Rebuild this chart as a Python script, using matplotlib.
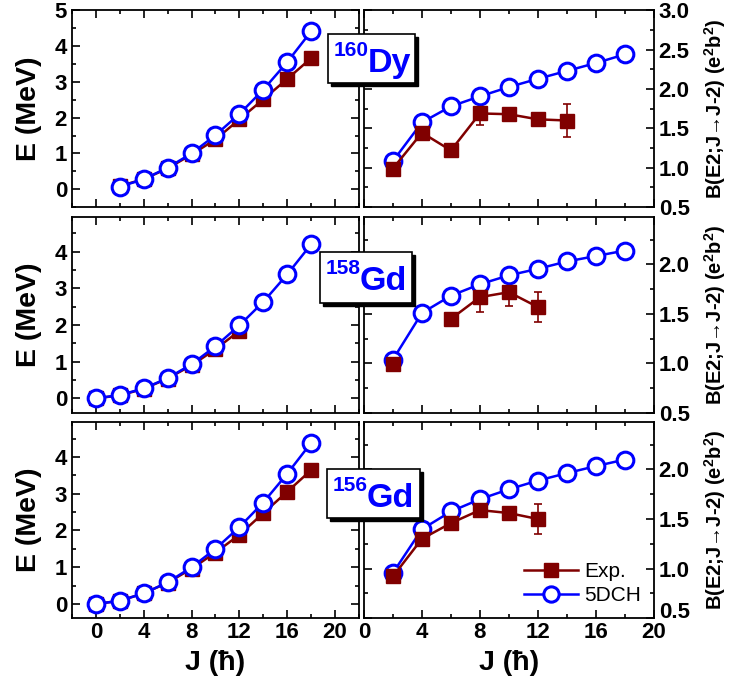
import numpy as np
import matplotlib
matplotlib.use("Agg")
import matplotlib.pyplot as plt
from matplotlib.lines import Line2D
from matplotlib.patches import Rectangle
from matplotlib.transforms import ScaledTranslation
from matplotlib.ticker import MultipleLocator, FormatStrFormatter

plt.rcParams['font.family'] = ['Liberation Sans', 'DejaVu Sans']
plt.rcParams['mathtext.fontset'] = 'custom'
plt.rcParams['mathtext.rm'] = 'Liberation Sans'
plt.rcParams['mathtext.bf'] = 'Liberation Sans:bold'

# ---- data ----
mass_numbers = ['160', '158', '156']
elements = ['Dy', 'Gd', 'Gd']

# energies (MeV)
J_e_th = [[2, 4, 6, 8, 10, 12, 14, 16, 18],
          [0, 2, 4, 6, 8, 10, 12, 14, 16, 18],
          [0, 2, 4, 6, 8, 10, 12, 14, 16, 18]]
E_th = [[0.07, 0.28, 0.60, 1.00, 1.51, 2.10, 2.78, 3.55, 4.41],
        [0.0, 0.09, 0.27, 0.55, 0.93, 1.42, 1.99, 2.63, 3.38, 4.20],
        [0.0, 0.09, 0.29, 0.59, 1.00, 1.50, 2.09, 2.76, 3.54, 4.38]]
J_e_exp = [[2, 4, 6, 8, 10, 12, 14, 16, 18],
           [0, 2, 4, 6, 8, 10, 12],
           [0, 2, 4, 6, 8, 10, 12, 14, 16, 18]]
E_exp = [[0.09, 0.28, 0.58, 0.97, 1.39, 1.95, 2.51, 3.08, 3.66],
         [0.0, 0.08, 0.26, 0.54, 0.90, 1.34, 1.84],
         [0.0, 0.09, 0.29, 0.58, 0.96, 1.40, 1.88, 2.47, 3.05, 3.64]]

# B(E2) (e^2 b^2); nan = no measured value
J_b_th = [2, 4, 6, 8, 10, 12, 14, 16, 18]
B_th = [[1.085, 1.576, 1.78, 1.907, 2.025, 2.13, 2.23, 2.33, 2.44],
        [1.04, 1.51, 1.685, 1.80, 1.89, 1.956, 2.03, 2.085, 2.14],
        [0.956, 1.397, 1.576, 1.70, 1.80, 1.888, 1.963, 2.034, 2.10]]
J_b_exp = [[2, 4, 6, 8, 10, 12, 14],
           [2, 4, 6, 8, 10, 12],
           [2, 4, 6, 8, 10, 12]]
B_exp = [[0.99, 1.445, 1.22, 1.69, 1.68, 1.615, 1.60],
         [0.99, np.nan, 1.45, 1.67, 1.72, 1.57],
         [0.92, 1.30, 1.458, 1.59, 1.56, 1.50]]
B_err = [[0.02, 0.03, 0.03, 0.15, 0.04, 0.03, 0.21],
         [0.02, 0.0, 0.03, 0.15, 0.14, 0.15],
         [0.02, 0.03, 0.03, 0.04, 0.05, 0.15]]

e_ylims = [(-0.5, 5.0), (-0.4, 4.95), (-0.38, 4.95)]
b_ylims = [(0.5, 3.0), (0.5, 2.48), (0.5, 2.48)]

RED = '#800000'
BLUE = '#0000ff'
W, H = 730, 688

fig = plt.figure(figsize=(W / 100, H / 100), dpi=100)

rows = [(0.699, 0.286), (0.3997, 0.285), (0.1017, 0.285)]


def style(ax):
    ax.tick_params(which='both', direction='in', top=True, right=True, left=True,
                   width=1.2, labelsize=16)
    ax.tick_params(which='major', length=6)
    ax.tick_params(which='minor', length=3)
    ax.tick_params(axis='x', pad=3)
    for s in ax.spines.values():
        s.set_linewidth(1.3)
    for lab in ax.get_xticklabels() + ax.get_yticklabels():
        lab.set_fontweight('bold')


right_axes = []
for i in range(3):
    b, h = rows[i]
    axl = fig.add_axes([0.0986, b, 0.393, h])
    axr = fig.add_axes([0.4986, b, 0.397, h])
    right_axes.append(axr)

    # energies
    axl.plot(J_e_exp[i], E_exp[i], '-s', color=RED, lw=1.8, ms=9.5)
    axl.plot(J_e_th[i], E_th[i], '-o', color=BLUE, lw=1.8, ms=12,
             mfc='white', mec=BLUE, mew=2.2)
    axl.set_xlim(-2, 22)
    axl.set_ylim(*e_ylims[i])
    axl.xaxis.set_major_locator(MultipleLocator(4))
    axl.xaxis.set_minor_locator(MultipleLocator(2))
    axl.yaxis.set_major_locator(MultipleLocator(1))
    axl.yaxis.set_minor_locator(MultipleLocator(0.5))
    axl.set_ylabel('E (MeV)', fontsize=20.5, fontweight='bold', labelpad=9)

    # B(E2)
    axr.errorbar(J_b_exp[i], B_exp[i], yerr=B_err[i], fmt='-s', color=RED,
                 lw=1.8, ms=9.5, capsize=3, elinewidth=1.2, capthick=1.2)
    axr.plot(J_b_th, B_th[i], '-o', color=BLUE, lw=1.8, ms=12,
             mfc='white', mec=BLUE, mew=2.2)
    axr.set_xlim(0, 20)
    axr.set_ylim(*b_ylims[i])
    axr.xaxis.set_major_locator(MultipleLocator(4))
    axr.xaxis.set_minor_locator(MultipleLocator(2))
    axr.yaxis.set_major_locator(MultipleLocator(0.5))
    axr.yaxis.set_minor_locator(MultipleLocator(0.25))
    axr.yaxis.tick_right()
    axr.yaxis.set_label_position('right')
    axr.yaxis.set_major_formatter(FormatStrFormatter('%.1f'))
    axr.set_ylabel(r'B(E2;J→J-2) (e$\mathbf{^2}$b$\mathbf{^2}$)', fontsize=14.5,
                   fontweight='bold', labelpad=9)

    if i < 2:
        axl.tick_params(labelbottom=False)
        axr.tick_params(labelbottom=False)
    else:
        axl.set_xlabel('J (ħ)', fontsize=20.5, fontweight='bold', labelpad=5)
        axr.set_xlabel('J (ħ)', fontsize=20.5, fontweight='bold', labelpad=5)
        handles = [Line2D([], [], color=RED, marker='s', lw=1.8, ms=9.5),
                   Line2D([], [], color=BLUE, marker='o', lw=1.8, ms=11,
                          mfc='white', mec=BLUE, mew=2.2)]
        axr.legend(handles, ['Exp.', '5DCH'], loc='lower right',
                   bbox_to_anchor=(0.955, 0.065), frameon=False, fontsize=15,
                   handlelength=2.55, borderaxespad=0, borderpad=0,
                   handletextpad=0.3, labelspacing=0.25)

    style(axl)
    style(axr)

# nucleus labels: box (left, top, right, bottom) in pixels from top-left
boxes = [(328, 34, 415, 83), (320, 252, 412, 303), (327, 469, 420, 518)]
for mass, el, (x0, y0, x1, y1) in zip(mass_numbers, elements, boxes):
    fx, fy = x0 / W, 1 - y1 / H
    fw, fh = (x1 - x0) / W, (y1 - y0) / H
    fig.add_artist(Rectangle((fx + 3 / W, fy - 3 / H), fw, fh, transform=fig.transFigure,
                             fc='black', ec='black', zorder=5))
    fig.add_artist(Rectangle((fx, fy), fw, fh, transform=fig.transFigure,
                             fc='white', ec='black', lw=1.2, zorder=6))
    fig.text((x0 + 6) / W, 1 - (y0 + 22) / H, mass, fontsize=15, fontweight='bold',
             color=BLUE, ha='left', va='baseline', zorder=7)
    fig.text((x0 + 40) / W, 1 - (y0 + 38) / H, el, fontsize=24.5, fontweight='bold',
             color=BLUE, ha='left', va='baseline', zorder=7)

# nudge the lowest B(E2) tick label of the bottom panel up, clear of the "20"
fig.canvas.draw()
for tick in right_axes[2].yaxis.get_major_ticks():
    if abs(tick.get_loc() - 0.5) < 1e-6:
        lab = tick.label2
        lab.set_transform(lab.get_transform() + ScaledTranslation(0, 6 / 72, fig.dpi_scale_trans))

fig.savefig('out.png', dpi=100)
